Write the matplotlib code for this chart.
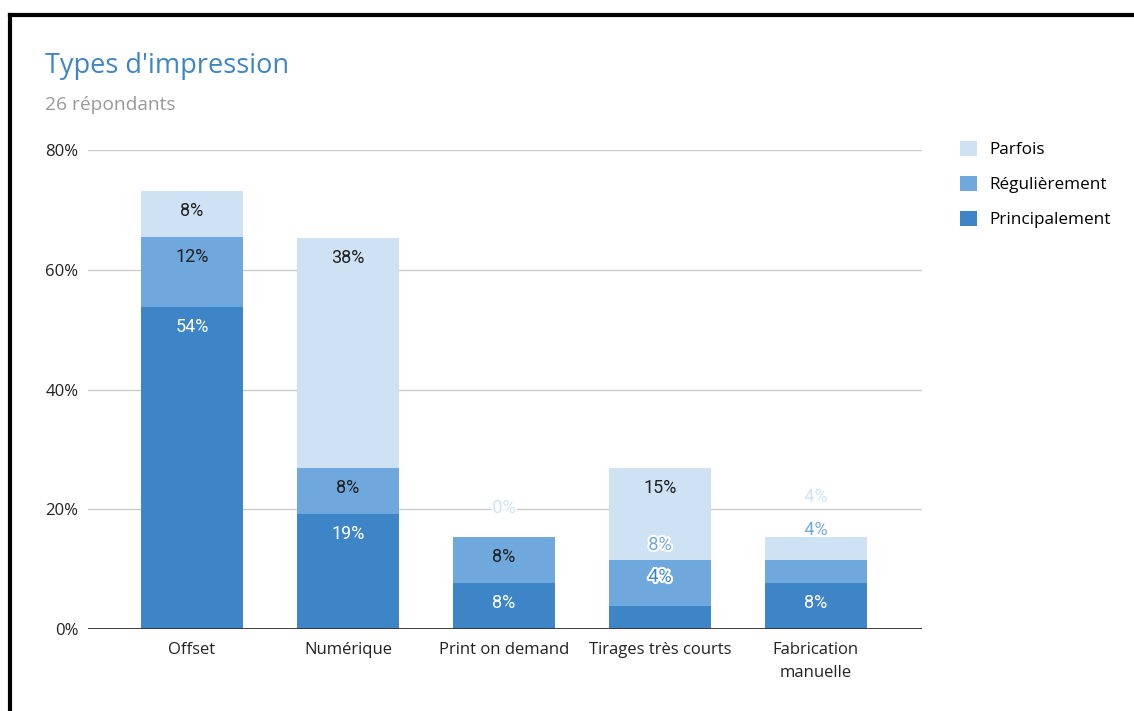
import matplotlib
matplotlib.use('Agg')
import matplotlib.pyplot as plt
import matplotlib.patheffects as pe
from matplotlib.patches import Patch
from matplotlib.lines import Line2D
import numpy as np

# Data (percent of 26 respondents)
categories = ['Offset', 'Numérique', 'Print on demand', 'Tirages très courts', 'Fabrication\nmanuelle']
principalement = [53.85, 19.23, 7.69, 3.85, 7.69]
regulierement = [11.54, 7.69, 7.69, 7.69, 3.85]
parfois = [7.69, 38.46, 0.0, 15.38, 3.85]
series_names = ['Principalement', 'Régulièrement', 'Parfois']
y_ticks = [0, 20, 40, 60, 80]

colors = ['#3d85c6', '#6fa8dc', '#cfe2f3']
inside_text = ['white', '#212121', '#212121']

# labels that google pushed above the segment: (series, category) -> px above segment top
outside = {(2, 2): 29, (0, 3): 29, (1, 3): 15, (1, 4): 30, (2, 4): 40}

DPI = 100
fig = plt.figure(figsize=(11.34, 7.11), dpi=DPI)
ax = fig.add_axes([88 / 1134, 1 - 629 / 711, (922 - 88) / 1134, (629 - 150) / 711])

x = np.arange(len(categories))
width = 0.654
bottom = np.zeros(len(categories))
px = 72 / DPI

for s, vals in enumerate([principalement, regulierement, parfois]):
    vals = np.array(vals)
    ax.bar(x, vals, width, bottom=bottom, color=colors[s], zorder=3)
    tops = bottom + vals
    for i in range(len(categories)):
        lab = '%d%%' % round(vals[i])
        if (s, i) in outside:
            ax.annotate(lab, (x[i], tops[i]), xytext=(0, outside[(s, i)] * px),
                        textcoords='offset points', ha='center', va='center',
                        fontsize=13, family='Roboto', color=colors[s], zorder=5,
                        path_effects=[pe.withStroke(linewidth=3, foreground='white')])
        else:
            ax.annotate(lab, (x[i], tops[i]), xytext=(0, -20 * px),
                        textcoords='offset points', ha='center', va='center',
                        fontsize=13, family='Roboto', color=inside_text[s], zorder=5)
    bottom = tops

ax.set_xlim(-0.667, len(categories) - 1 + 0.68)
ax.set_ylim(0, 80)
ax.set_yticks(y_ticks)
ax.set_yticklabels(['%d%%' % t for t in y_ticks], family='Open Sans', fontsize=12, color='#222222')
ax.set_xticks(x)
ax.set_xticklabels(categories, family='Open Sans', fontsize=12, color='#222222', linespacing=1.6)
ax.tick_params(axis='both', length=0)
ax.tick_params(axis='y', pad=7)
ax.tick_params(axis='x', pad=9.5)
for sp in ax.spines.values():
    sp.set_visible(False)
ax.grid(axis='y', color='#cccccc', linewidth=1, zorder=1)
ax.axhline(0, color='#333333', linewidth=1.3, zorder=4)
ax.set_axisbelow(True)

fig.text(45 / 1134, 1 - 73 / 711, "Types d'impression", family='Open Sans', fontsize=19.5,
         color='#3d85c6', va='baseline', ha='left')
fig.text(45 / 1134, 1 - 110 / 711, "26 répondants", family='Open Sans', fontsize=13.8,
         color='#999999', va='baseline', ha='left')

handles = [Patch(facecolor=colors[s], edgecolor='none') for s in [2, 1, 0]]
labels = [series_names[s] for s in [2, 1, 0]]
fig.legend(handles, labels, loc='upper left', bbox_to_anchor=(960 / 1134, 1 - 141 / 711),
           frameon=False, prop={'family': 'Open Sans', 'size': 12.3},
           handlelength=1.0, handleheight=1.0, handletextpad=0.72, labelspacing=1.02,
           borderaxespad=0, borderpad=0)

# black frame on left and top (screenshot border)
fig.add_artist(Line2D([9.5 / 1134, 9.5 / 1134], [0, 1 - 15 / 711], color='black', linewidth=3))
fig.add_artist(Line2D([9.5 / 1134, 1], [1 - 15 / 711, 1 - 15 / 711], color='black', linewidth=3))

fig.savefig('out.png', dpi=DPI)
